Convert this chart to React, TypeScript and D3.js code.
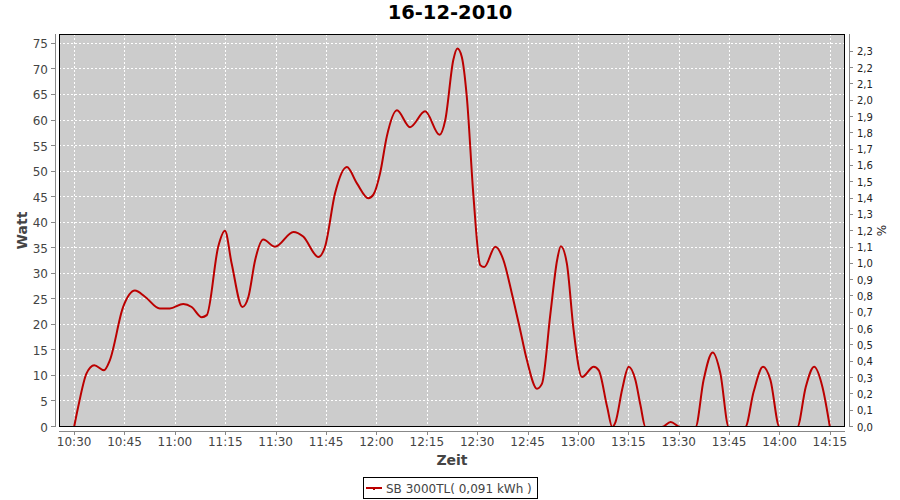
import React from "react";
import * as d3 from "d3";

// minutes after 10:30 and power readings (W)
const minutes = [0,1.2,3.7,6.0,8.9,10.6,14.6,18.1,21.1,25.5,
  28.5,32.5,35,38,39.5,42.9,44.9,46.9,50.1,51.9,
  53.9,56.3,59.8,65.3,68.2,72.7,74.7,77.7,81.2,84.2,
  87.6,89.1,91.1,93.1,96.1,100,104.5,108.8,110.5,112.9,
  114.1,115.4,116.9,118.9,120.9,122.1,125.4,127.8,130.3,132.8,
  134.8,137.8,139.3,141.8,143.8,144.9,146.7,148.7,151.2,154.7,
  156.2,158.7,160.2,161.2,163.2,165.1,167.1,168.6,170.1,175,
  177.6,180.5,185,187.4,190.1,192.4,194.9,199.8,202.3,205.1,
  207.3,210,215.3,217.8,220.3,222.8,225];
const watts = [0,3.9,10.5,12.1,11.1,13,23.5,26.7,25.5,23.2,
  23.2,24.1,23.5,21.5,21.9,35.3,38.4,32,23.5,25.5,
  32.7,36.7,35.3,38.2,37.3,33.3,35.3,45.8,50.9,47.7,
  44.8,45.5,49.7,56.9,62,58.7,61.8,57.2,60.1,71.9,
  74.1,72.5,64.7,45.1,31.7,31.3,35.3,32.7,26.2,19,
  13.1,7.5,8.5,22.2,32.7,35.4,32,19,9.8,11.8,
  11.1,3.9,0,1,7.5,11.8,9.2,4.3,0,0,
  1,0,0,9.2,14.6,10.5,0,0,6.9,11.8,
  9.2,0,0,7.8,11.8,7.8,0];

const startTime = "10:30";
const xTickLabels = ["10:30","10:45","11:00","11:15","11:30","11:45","12:00","12:15","12:30","12:45","13:00","13:15","13:30","13:45","14:00","14:15"];
const leftTicks = [0,5,10,15,20,25,30,35,40,45,50,55,60,65,70,75];
const rightTicks = [0,0.1,0.2,0.3,0.4,0.5,0.6,0.7,0.8,0.9,1.0,1.1,1.2,1.3,1.4,1.5,1.6,1.7,1.8,1.9,2.0,2.1,2.2,2.3];
const leftMax = 76.94;
const rightMax = 2.409;

const title = "16-12-2010";
const seriesName = "SB 3000TL( 0,091 kWh )";
const xLabel = "Zeit";
const yLabel = "Watt";
const y2Label = "%";

const toMin = (s: string) => {
  const [h, m] = s.split(":").map(Number);
  const [h0, m0] = startTime.split(":").map(Number);
  return h * 60 + m - (h0 * 60 + m0);
};

export default function App() {
  const W = 900, H = 500;
  const L = 59, R = 845, T = 34, B = 427;
  const ext = d3.extent(minutes) as [number, number];
  const span = ext[1] - ext[0];
  const x = d3.scaleLinear().domain([ext[0] - 0.02 * span, ext[1] + 0.02 * span]).range([L, R]);
  const y = d3.scaleLinear().domain([0, leftMax]).range([B, T]);
  const y2 = d3.scaleLinear().domain([0, rightMax]).range([B, T]);
  const pts = minutes.map((m, i) => [m, watts[i]] as [number, number]);
  const line = d3.line<[number, number]>().x(d => x(d[0])).y(d => y(d[1])).curve(d3.curveMonotoneX);
  const font = "DejaVu Sans, sans-serif";
  const fmt = (v: number) => d3.format(".1f")(v).replace(".", ",");
  const axisCol = "#888888";
  const textCol = "#444444";
  return (
    <svg width={W} height={H} style={{ position: "absolute", left: 0, top: 0, background: "#fff" }} fontFamily={font}>
      <defs>
        <clipPath id="plotclip"><rect x={L} y={T} width={R - L} height={B - T} /></clipPath>
      </defs>
      <text x={450} y={18.5} textAnchor="middle" fontSize={19.5} fontWeight="bold" fill="#000">{title}</text>
      <rect x={L} y={T} width={R - L} height={B - T} fill="#CCCCCC" />
      {xTickLabels.map(t => (
        <line key={"gx" + t} x1={Math.round(x(toMin(t))) + 0.5} x2={Math.round(x(toMin(t))) + 0.5} y1={T} y2={B} stroke="#fff" strokeDasharray="2,2" strokeWidth={1} />
      ))}
      {leftTicks.map(v => (
        <line key={"gy" + v} x1={L} x2={R} y1={Math.round(y(v)) - 0.5} y2={Math.round(y(v)) - 0.5} stroke="#fff" strokeDasharray="2,2" strokeWidth={1} />
      ))}
      <path d={line(pts) || ""} fill="none" stroke="#BB0000" strokeWidth={2} clipPath="url(#plotclip)" strokeLinejoin="round" />
      <rect x={L + 0.5} y={T + 0.5} width={R - L - 1} height={B - T - 1} fill="none" stroke="#000" strokeWidth={1} />
      {/* left axis */}
      <line x1={55.5} x2={55.5} y1={T} y2={B} stroke={axisCol} />
      {leftTicks.map(v => (
        <g key={"ly" + v}>
          <line x1={51} x2={55} y1={Math.round(y(v)) - 0.5} y2={Math.round(y(v)) - 0.5} stroke={axisCol} />
          <text x={48} y={y(v) + 4.5} textAnchor="end" fontSize={12} fill={textCol}>{v}</text>
        </g>
      ))}
      <text transform={`translate(27,${(T + B) / 2}) rotate(-90)`} textAnchor="middle" fontSize={14} fontWeight="bold" fill={textCol}>{yLabel}</text>
      {/* right axis */}
      <line x1={849.5} x2={849.5} y1={T} y2={B} stroke={axisCol} />
      {rightTicks.map(v => (
        <g key={"ry" + v}>
          <line x1={850} x2={853} y1={Math.round(y2(v)) - 0.5} y2={Math.round(y2(v)) - 0.5} stroke={axisCol} />
          <text x={857} y={y2(v) + 3.5} fontSize={10} fill="#222">{fmt(v)}</text>
        </g>
      ))}
      <text transform={`translate(886,${(T + B) / 2}) rotate(-90)`} textAnchor="middle" fontSize={12} fill="#222">{y2Label}</text>
      {/* bottom axis */}
      <line x1={L} x2={R} y1={431.5} y2={431.5} stroke={axisCol} />
      {xTickLabels.map(t => (
        <g key={"xt" + t}>
          <line x1={Math.round(x(toMin(t))) + 0.5} x2={Math.round(x(toMin(t))) + 0.5} y1={432} y2={435} stroke={axisCol} />
          <text x={x(toMin(t))} y={446} textAnchor="middle" fontSize={12} fill={textCol}>{t}</text>
        </g>
      ))}
      <text x={(L + R) / 2} y={465} textAnchor="middle" fontSize={14} fontWeight="bold" fill={textCol}>{xLabel}</text>
      {/* legend */}
      <rect x={363.5} y={477.5} width={174} height={21} fill="#fff" stroke="#000" />
      <line x1={366} x2={382} y1={488} y2={488} stroke="#BB0000" strokeWidth={2} />
      <rect x={373} y={488} width={2} height={2} fill="#BB0000" />
      <text x={386} y={492.5} fontSize={12} fill={textCol}>{seriesName}</text>
    </svg>
  );
}
